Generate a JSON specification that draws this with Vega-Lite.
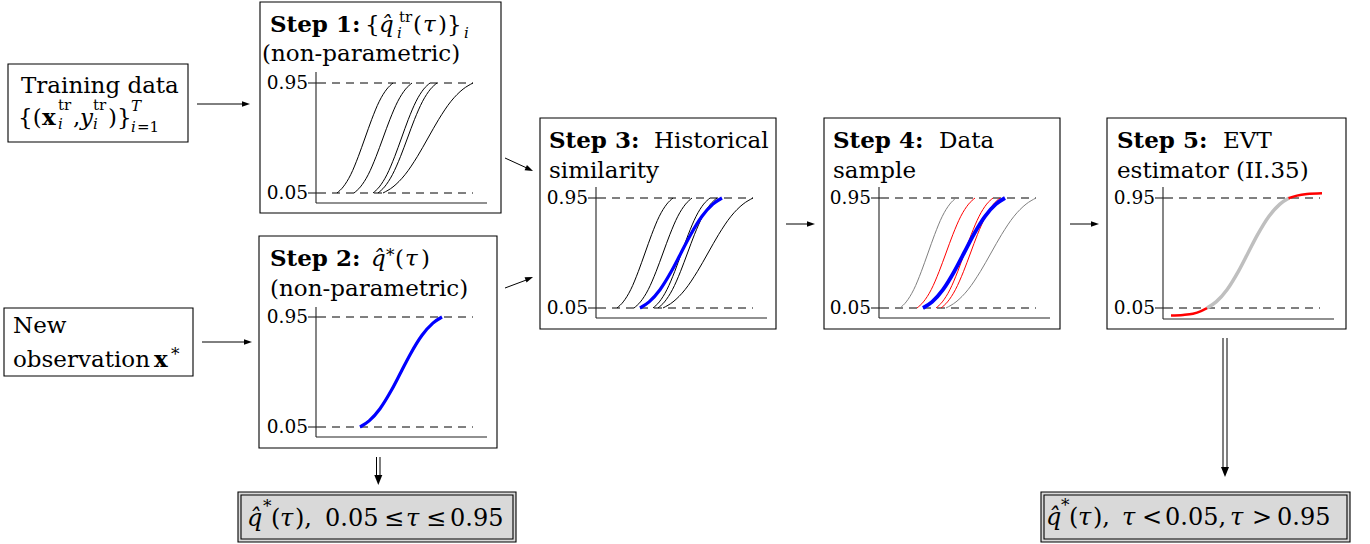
{
"$schema":"https://vega.github.io/schema/vega-lite/v6.json",
"width":1370,"height":544,"padding":0,"autosize":{"type":"none"},
"background":"white",
"config":{"view":{"stroke":null}},
"datasets":{
"boxes":[{"x":8,"x2":188,"y":64,"y2":142},{"x":4,"x2":193,"y":308,"y2":376},{"x":260,"x2":501,"y":2,"y2":213},{"x":259,"x2":497,"y":236,"y2":448},{"x":540,"x2":776,"y":118,"y2":329},{"x":824,"x2":1060,"y":118,"y2":329},{"x":1107,"x2":1346,"y":118,"y2":329}],
"resOuter":[{"x":238,"x2":516,"y":492,"y2":542},{"x":1041,"x2":1350,"y":492,"y2":542}],
"resInner":[{"x":241,"x2":513,"y":495,"y2":539},{"x":1044,"x2":1347,"y":495,"y2":539}],
"axes":[
{"x":316,"x2":316,"y":72,"y2":203},{"x":316,"x2":487,"y":203,"y2":203},{"x":308,"x2":318,"y":83,"y2":83},{"x":308,"x2":318,"y":193,"y2":193},
{"x":316,"x2":316,"y":307,"y2":437},{"x":316,"x2":487,"y":437,"y2":437},{"x":308,"x2":318,"y":317,"y2":317},{"x":308,"x2":318,"y":427,"y2":427},
{"x":596,"x2":596,"y":187,"y2":318},{"x":596,"x2":767,"y":318,"y2":318},{"x":588,"x2":598,"y":198,"y2":198},{"x":588,"x2":598,"y":308,"y2":308},
{"x":879,"x2":879,"y":187,"y2":318},{"x":879,"x2":1050,"y":318,"y2":318},{"x":871,"x2":881,"y":198,"y2":198},{"x":871,"x2":881,"y":308,"y2":308},
{"x":1163,"x2":1163,"y":187,"y2":319},{"x":1163,"x2":1334,"y":319,"y2":319},{"x":1155,"x2":1165,"y":198,"y2":198},{"x":1155,"x2":1165,"y":308,"y2":308}],
"dashes":[
{"x":318,"x2":473,"y":83,"y2":83},{"x":318,"x2":473,"y":193,"y2":193},
{"x":318,"x2":473,"y":317,"y2":317},{"x":318,"x2":473,"y":427,"y2":427},
{"x":598,"x2":753,"y":198,"y2":198},{"x":598,"x2":753,"y":308,"y2":308},
{"x":881,"x2":1036,"y":198,"y2":198},{"x":881,"x2":1036,"y":308,"y2":308},
{"x":1165,"x2":1320,"y":198,"y2":198},{"x":1165,"x2":1320,"y":308,"y2":308}],
"ticklabels":[
{"x":308,"y":83,"t":"0.95"},{"x":308,"y":193,"t":"0.05"},
{"x":308,"y":317,"t":"0.95"},{"x":308,"y":427,"t":"0.05"},
{"x":588,"y":198,"t":"0.95"},{"x":588,"y":308,"t":"0.05"},
{"x":871,"y":198,"t":"0.95"},{"x":871,"y":308,"t":"0.05"},
{"x":1155,"y":198,"t":"0.95"},{"x":1155,"y":308,"t":"0.05"}],
"shafts":[
{"x":197,"x2":246,"y":104,"y2":104},{"x":202,"x2":248,"y":342,"y2":342},
{"x":505,"x2":529,"y":158,"y2":169},{"x":505,"x2":529,"y":288,"y2":279},
{"x":786,"x2":811,"y":224,"y2":224},{"x":1070,"x2":1095,"y":224,"y2":224},
{"x":376.5,"x2":376.5,"y":457,"y2":478},{"x":380,"x2":380,"y":457,"y2":478},
{"x":1223,"x2":1223,"y":338,"y2":469},{"x":1227,"x2":1227,"y":338,"y2":469}],
"headsR":[{"x":246,"y":104,"a":0},{"x":248,"y":342,"a":0},{"x":529.4,"y":169.3,"a":25},{"x":529.3,"y":278.5,"a":-21},{"x":811,"y":224,"a":0},{"x":1095,"y":224,"a":0}],
"headsD":[{"x":378.3,"y":480},{"x":1225,"y":472}],
"curves":[
{"c":"s1a","k":"k","x":337,"y":193},{"c":"s1a","k":"k","x":343.2,"y":186.9},{"c":"s1a","k":"k","x":350.7,"y":174.7},{"c":"s1a","k":"k","x":358.4,"y":156.3},{"c":"s1a","k":"k","x":365,"y":138},{"c":"s1a","k":"k","x":371.6,"y":119.7},{"c":"s1a","k":"k","x":379.3,"y":101.3},{"c":"s1a","k":"k","x":386.8,"y":89.1},{"c":"s1a","k":"k","x":393,"y":83},
{"c":"s1b","k":"k","x":354,"y":193},{"c":"s1b","k":"k","x":360.4,"y":186.9},{"c":"s1b","k":"k","x":368.2,"y":174.7},{"c":"s1b","k":"k","x":376.2,"y":156.3},{"c":"s1b","k":"k","x":383,"y":138},{"c":"s1b","k":"k","x":389.8,"y":119.7},{"c":"s1b","k":"k","x":397.8,"y":101.3},{"c":"s1b","k":"k","x":405.6,"y":89.1},{"c":"s1b","k":"k","x":412,"y":83},
{"c":"s1c","k":"k","x":373,"y":193},{"c":"s1c","k":"k","x":379.3,"y":186.9},{"c":"s1c","k":"k","x":386.9,"y":174.7},{"c":"s1c","k":"k","x":394.8,"y":156.3},{"c":"s1c","k":"k","x":401.5,"y":138},{"c":"s1c","k":"k","x":408.2,"y":119.7},{"c":"s1c","k":"k","x":416.1,"y":101.3},{"c":"s1c","k":"k","x":423.7,"y":89.1},{"c":"s1c","k":"k","x":430,"y":83},
{"c":"s1d","k":"k","x":378,"y":193},{"c":"s1d","k":"k","x":384.5,"y":186.9},{"c":"s1d","k":"k","x":392.4,"y":174.7},{"c":"s1d","k":"k","x":400.6,"y":156.3},{"c":"s1d","k":"k","x":407.5,"y":138},{"c":"s1d","k":"k","x":414.4,"y":119.7},{"c":"s1d","k":"k","x":422.6,"y":101.3},{"c":"s1d","k":"k","x":430.5,"y":89.1},{"c":"s1d","k":"k","x":437,"y":83},
{"c":"s1e","k":"k","x":383,"y":193},{"c":"s1e","k":"k","x":393,"y":186.9},{"c":"s1e","k":"k","x":405,"y":174.7},{"c":"s1e","k":"k","x":417.5,"y":156.3},{"c":"s1e","k":"k","x":428,"y":138},{"c":"s1e","k":"k","x":438.5,"y":119.7},{"c":"s1e","k":"k","x":451,"y":101.3},{"c":"s1e","k":"k","x":463.1,"y":89.1},{"c":"s1e","k":"k","x":473,"y":83},
{"c":"s2","k":"b","x":360,"y":427},{"c":"s2","k":"b","x":369.1,"y":420.9},{"c":"s2","k":"b","x":380,"y":408.7},{"c":"s2","k":"b","x":391.4,"y":390.3},{"c":"s2","k":"b","x":401,"y":372},{"c":"s2","k":"b","x":410.6,"y":353.7},{"c":"s2","k":"b","x":422,"y":335.3},{"c":"s2","k":"b","x":432.9,"y":323.1},{"c":"s2","k":"b","x":442,"y":317},
{"c":"s3a","k":"k","x":617,"y":308},{"c":"s3a","k":"k","x":623.2,"y":301.9},{"c":"s3a","k":"k","x":630.7,"y":289.7},{"c":"s3a","k":"k","x":638.4,"y":271.3},{"c":"s3a","k":"k","x":645,"y":253},{"c":"s3a","k":"k","x":651.6,"y":234.7},{"c":"s3a","k":"k","x":659.3,"y":216.3},{"c":"s3a","k":"k","x":666.8,"y":204.1},{"c":"s3a","k":"k","x":673,"y":198},
{"c":"s3b","k":"k","x":634,"y":308},{"c":"s3b","k":"k","x":640.4,"y":301.9},{"c":"s3b","k":"k","x":648.2,"y":289.7},{"c":"s3b","k":"k","x":656.2,"y":271.3},{"c":"s3b","k":"k","x":663,"y":253},{"c":"s3b","k":"k","x":669.8,"y":234.7},{"c":"s3b","k":"k","x":677.8,"y":216.3},{"c":"s3b","k":"k","x":685.6,"y":204.1},{"c":"s3b","k":"k","x":692,"y":198},
{"c":"s3c","k":"k","x":653,"y":308},{"c":"s3c","k":"k","x":659.3,"y":301.9},{"c":"s3c","k":"k","x":666.9,"y":289.7},{"c":"s3c","k":"k","x":674.8,"y":271.3},{"c":"s3c","k":"k","x":681.5,"y":253},{"c":"s3c","k":"k","x":688.2,"y":234.7},{"c":"s3c","k":"k","x":696.1,"y":216.3},{"c":"s3c","k":"k","x":703.7,"y":204.1},{"c":"s3c","k":"k","x":710,"y":198},
{"c":"s3d","k":"k","x":658,"y":308},{"c":"s3d","k":"k","x":664.5,"y":301.9},{"c":"s3d","k":"k","x":672.4,"y":289.7},{"c":"s3d","k":"k","x":680.6,"y":271.3},{"c":"s3d","k":"k","x":687.5,"y":253},{"c":"s3d","k":"k","x":694.4,"y":234.7},{"c":"s3d","k":"k","x":702.6,"y":216.3},{"c":"s3d","k":"k","x":710.5,"y":204.1},{"c":"s3d","k":"k","x":717,"y":198},
{"c":"s3e","k":"k","x":663,"y":308},{"c":"s3e","k":"k","x":673,"y":301.9},{"c":"s3e","k":"k","x":685,"y":289.7},{"c":"s3e","k":"k","x":697.5,"y":271.3},{"c":"s3e","k":"k","x":708,"y":253},{"c":"s3e","k":"k","x":718.5,"y":234.7},{"c":"s3e","k":"k","x":731,"y":216.3},{"c":"s3e","k":"k","x":743.1,"y":204.1},{"c":"s3e","k":"k","x":753,"y":198},
{"c":"s3x","k":"b","x":640,"y":308},{"c":"s3x","k":"b","x":649.1,"y":301.9},{"c":"s3x","k":"b","x":660,"y":289.7},{"c":"s3x","k":"b","x":671.4,"y":271.3},{"c":"s3x","k":"b","x":681,"y":253},{"c":"s3x","k":"b","x":690.6,"y":234.7},{"c":"s3x","k":"b","x":702,"y":216.3},{"c":"s3x","k":"b","x":712.9,"y":204.1},{"c":"s3x","k":"b","x":722,"y":198},
{"c":"s4a","k":"g","x":900,"y":308},{"c":"s4a","k":"g","x":906.2,"y":301.9},{"c":"s4a","k":"g","x":913.7,"y":289.7},{"c":"s4a","k":"g","x":921.4,"y":271.3},{"c":"s4a","k":"g","x":928,"y":253},{"c":"s4a","k":"g","x":934.6,"y":234.7},{"c":"s4a","k":"g","x":942.3,"y":216.3},{"c":"s4a","k":"g","x":949.8,"y":204.1},{"c":"s4a","k":"g","x":956,"y":198},
{"c":"s4b","k":"r","x":917,"y":308},{"c":"s4b","k":"r","x":923.4,"y":301.9},{"c":"s4b","k":"r","x":931.2,"y":289.7},{"c":"s4b","k":"r","x":939.2,"y":271.3},{"c":"s4b","k":"r","x":946,"y":253},{"c":"s4b","k":"r","x":952.8,"y":234.7},{"c":"s4b","k":"r","x":960.8,"y":216.3},{"c":"s4b","k":"r","x":968.6,"y":204.1},{"c":"s4b","k":"r","x":975,"y":198},
{"c":"s4c","k":"r","x":936,"y":308},{"c":"s4c","k":"r","x":942.3,"y":301.9},{"c":"s4c","k":"r","x":949.9,"y":289.7},{"c":"s4c","k":"r","x":957.8,"y":271.3},{"c":"s4c","k":"r","x":964.5,"y":253},{"c":"s4c","k":"r","x":971.2,"y":234.7},{"c":"s4c","k":"r","x":979.1,"y":216.3},{"c":"s4c","k":"r","x":986.7,"y":204.1},{"c":"s4c","k":"r","x":993,"y":198},
{"c":"s4d","k":"r","x":941,"y":308},{"c":"s4d","k":"r","x":947.5,"y":301.9},{"c":"s4d","k":"r","x":955.4,"y":289.7},{"c":"s4d","k":"r","x":963.6,"y":271.3},{"c":"s4d","k":"r","x":970.5,"y":253},{"c":"s4d","k":"r","x":977.4,"y":234.7},{"c":"s4d","k":"r","x":985.6,"y":216.3},{"c":"s4d","k":"r","x":993.5,"y":204.1},{"c":"s4d","k":"r","x":1000,"y":198},
{"c":"s4e","k":"g","x":946,"y":308},{"c":"s4e","k":"g","x":956,"y":301.9},{"c":"s4e","k":"g","x":968,"y":289.7},{"c":"s4e","k":"g","x":980.5,"y":271.3},{"c":"s4e","k":"g","x":991,"y":253},{"c":"s4e","k":"g","x":1001.5,"y":234.7},{"c":"s4e","k":"g","x":1014,"y":216.3},{"c":"s4e","k":"g","x":1026.1,"y":204.1},{"c":"s4e","k":"g","x":1036,"y":198},
{"c":"s4x","k":"b4","x":923,"y":308},{"c":"s4x","k":"b4","x":932.1,"y":301.9},{"c":"s4x","k":"b4","x":943,"y":289.7},{"c":"s4x","k":"b4","x":954.4,"y":271.3},{"c":"s4x","k":"b4","x":964,"y":253},{"c":"s4x","k":"b4","x":973.6,"y":234.7},{"c":"s4x","k":"b4","x":985,"y":216.3},{"c":"s4x","k":"b4","x":995.9,"y":204.1},{"c":"s4x","k":"b4","x":1005,"y":198},
{"c":"s5","k":"lg","x":1207,"y":308},{"c":"s5","k":"lg","x":1216.1,"y":301.9},{"c":"s5","k":"lg","x":1227,"y":289.7},{"c":"s5","k":"lg","x":1238.4,"y":271.3},{"c":"s5","k":"lg","x":1248,"y":253},{"c":"s5","k":"lg","x":1257.6,"y":234.7},{"c":"s5","k":"lg","x":1269,"y":216.3},{"c":"s5","k":"lg","x":1279.9,"y":204.1},{"c":"s5","k":"lg","x":1289,"y":198},
{"c":"s5l","k":"rt","x":1171,"y":315.5},{"c":"s5l","k":"rt","x":1183,"y":315},{"c":"s5l","k":"rt","x":1193,"y":313.8},{"c":"s5l","k":"rt","x":1201,"y":311.2},{"c":"s5l","k":"rt","x":1207,"y":308.2},
{"c":"s5h","k":"rt","x":1288.5,"y":198.2},{"c":"s5h","k":"rt","x":1297,"y":195.6},{"c":"s5h","k":"rt","x":1307,"y":194},{"c":"s5h","k":"rt","x":1322,"y":193.2}],
"t_up":[{"x":21,"y":93,"t":"Training data"},{"x":18,"y":125,"t":"{("},{"x":73,"y":125,"t":","},{"x":108,"y":125,"t":")}"},{"x":13,"y":333,"t":"New"},{"x":13,"y":367,"t":"observation"},{"x":365,"y":32,"t":"{"},{"x":413,"y":32,"t":"("},{"x":438,"y":32,"t":")}"},{"x":262,"y":61,"t":"(non-parametric)"},{"x":395,"y":266,"t":"("},{"x":421,"y":266,"t":")"},{"x":270,"y":296,"t":"(non-parametric)"},{"x":654,"y":148,"t":"Historical"},{"x":549,"y":178,"t":"similarity"},{"x":939,"y":148,"t":"Data"},{"x":833,"y":178,"t":"sample"},{"x":1223,"y":148,"t":"EVT"},{"x":1117,"y":178,"t":"estimator (II.35)"}],
"t_it":[{"x":80,"y":125,"t":"y"},{"x":379,"y":32,"t":"q\u0302"},{"x":423,"y":32,"t":"τ"},{"x":371,"y":266,"t":"q\u0302"},{"x":405,"y":266,"t":"τ"}],
"t_bold":[{"x":42,"y":125,"t":"x"},{"x":154,"y":367,"t":"x"},{"x":270,"y":32,"t":"Step 1:"},{"x":270,"y":266,"t":"Step 2:"},{"x":549,"y":148,"t":"Step 3:"},{"x":833,"y":148,"t":"Step 4:"},{"x":1117,"y":148,"t":"Step 5:"}],
"t_sc":[{"x":58,"y":110,"t":"tr"},{"x":93,"y":110,"t":"tr"},{"x":137,"y":132,"t":"=1"},{"x":399,"y":22,"t":"tr"}],
"t_star":[{"x":171,"y":360,"t":"*"},{"x":386,"y":261,"t":"*"}],
"t_sc_it":[{"x":58,"y":129,"t":"i"},{"x":93,"y":129,"t":"i"},{"x":131,"y":111,"t":"T"},{"x":131,"y":132,"t":"i"},{"x":397,"y":38,"t":"i"},{"x":464,"y":38,"t":"i"}],
"t_big":[{"x":271,"y":526,"t":"("},{"x":295,"y":526,"t":"),"},{"x":325,"y":526,"t":"0.05"},{"x":384,"y":526,"t":"≤"},{"x":426,"y":526,"t":"≤"},{"x":450,"y":526,"t":"0.95"},{"x":1069,"y":525,"t":"("},{"x":1093,"y":525,"t":"),"},{"x":1142,"y":525,"t":"<"},{"x":1165,"y":525,"t":"0.05,"},{"x":1252,"y":525,"t":">"},{"x":1277,"y":525,"t":"0.95"}],
"t_big_it":[{"x":247,"y":526,"t":"q\u0302"},{"x":280,"y":526,"t":"τ"},{"x":406,"y":526,"t":"τ"},{"x":1046,"y":525,"t":"q\u0302"},{"x":1078,"y":525,"t":"τ"},{"x":1122,"y":525,"t":"τ"},{"x":1230,"y":525,"t":"τ"}],
"t_big_sc":[{"x":263,"y":512,"t":"*"},{"x":1061,"y":511,"t":"*"}]
},
"encoding":{
"x":{"field":"x","type":"quantitative","scale":{"domain":[0,1370],"nice":false,"zero":false},"axis":null},
"y":{"field":"y","type":"quantitative","scale":{"domain":[0,544],"nice":false,"zero":false,"reverse":true},"axis":null}
},
"layer":[
{"data":{"name":"boxes"},"mark":{"type":"rect","fill":"white","stroke":"black","strokeWidth":1.1},"encoding":{"x2":{"field":"x2"},"y2":{"field":"y2"}}},
{"data":{"name":"resOuter"},"mark":{"type":"rect","fill":"#d9d9d9","stroke":"black","strokeWidth":1.1},"encoding":{"x2":{"field":"x2"},"y2":{"field":"y2"}}},
{"data":{"name":"resInner"},"mark":{"type":"rect","fill":null,"fillOpacity":0,"stroke":"black","strokeWidth":1.1},"encoding":{"x2":{"field":"x2"},"y2":{"field":"y2"}}},
{"data":{"name":"dashes"},"mark":{"type":"rule","color":"black","strokeWidth":1,"strokeDash":[8,6]},"encoding":{"x2":{"field":"x2"},"y2":{"field":"y2"}}},
{"data":{"name":"axes"},"mark":{"type":"rule","color":"#222","strokeWidth":1.1},"encoding":{"x2":{"field":"x2"},"y2":{"field":"y2"}}},
{"data":{"name":"shafts"},"mark":{"type":"rule","color":"black","strokeWidth":1},"encoding":{"x2":{"field":"x2"},"y2":{"field":"y2"}}},
{"data":{"name":"headsR"},"mark":{"type":"point","shape":"M-1,-0.7L1,0L-1,0.7Z","filled":true,"color":"black","size":64,"opacity":1},"encoding":{"angle":{"field":"a","type":"quantitative","scale":null}}},
{"data":{"name":"headsD"},"mark":{"type":"point","shape":"M-0.8,-1L0,1L0.8,-1Z","filled":true,"color":"black","size":100,"opacity":1}},
{"data":{"name":"curves"},"transform":[{"filter":{"field":"k","equal":"k"}}],"mark":{"type":"line","interpolate":"monotone","color":"black","strokeWidth":1},"encoding":{"detail":{"field":"c"}}},
{"data":{"name":"curves"},"transform":[{"filter":{"field":"k","equal":"g"}}],"mark":{"type":"line","interpolate":"monotone","color":"#808080","strokeWidth":1},"encoding":{"detail":{"field":"c"}}},
{"data":{"name":"curves"},"transform":[{"filter":{"field":"k","equal":"r"}}],"mark":{"type":"line","interpolate":"monotone","color":"#ff0000","strokeWidth":1},"encoding":{"detail":{"field":"c"}}},
{"data":{"name":"curves"},"transform":[{"filter":{"field":"k","equal":"lg"}}],"mark":{"type":"line","interpolate":"monotone","color":"#bfbfbf","strokeWidth":3.5},"encoding":{"detail":{"field":"c"}}},
{"data":{"name":"curves"},"transform":[{"filter":{"field":"k","equal":"rt"}}],"mark":{"type":"line","interpolate":"monotone","color":"#ff0000","strokeWidth":2.5},"encoding":{"detail":{"field":"c"}}},
{"data":{"name":"curves"},"transform":[{"filter":{"field":"k","equal":"b"}}],"mark":{"type":"line","interpolate":"monotone","color":"#0000ff","strokeWidth":3.2},"encoding":{"detail":{"field":"c"}}},
{"data":{"name":"curves"},"transform":[{"filter":{"field":"k","equal":"b4"}}],"mark":{"type":"line","interpolate":"monotone","color":"#0000ff","strokeWidth":3.8},"encoding":{"detail":{"field":"c"}}},
{"data":{"name":"ticklabels"},"mark":{"type":"text","font":"DejaVu Serif","fontSize":18.5,"align":"right","baseline":"middle","color":"black"},"encoding":{"text":{"field":"t"}}},
{"data":{"name":"t_up"},"mark":{"type":"text","font":"DejaVu Serif","fontSize":23,"align":"left","baseline":"alphabetic","color":"black"},"encoding":{"text":{"field":"t"}}},
{"data":{"name":"t_it"},"mark":{"type":"text","font":"DejaVu Serif","fontStyle":"italic","fontSize":23,"align":"left","baseline":"alphabetic","color":"black"},"encoding":{"text":{"field":"t"}}},
{"data":{"name":"t_bold"},"mark":{"type":"text","font":"DejaVu Serif","fontWeight":"bold","fontSize":23,"align":"left","baseline":"alphabetic","color":"black"},"encoding":{"text":{"field":"t"}}},
{"data":{"name":"t_sc"},"mark":{"type":"text","font":"DejaVu Serif","fontSize":15,"align":"left","baseline":"alphabetic","color":"black"},"encoding":{"text":{"field":"t"}}},
{"data":{"name":"t_star"},"mark":{"type":"text","font":"DejaVu Serif","fontSize":17,"align":"left","baseline":"alphabetic","color":"black"},"encoding":{"text":{"field":"t"}}},
{"data":{"name":"t_sc_it"},"mark":{"type":"text","font":"DejaVu Serif","fontStyle":"italic","fontSize":15,"align":"left","baseline":"alphabetic","color":"black"},"encoding":{"text":{"field":"t"}}},
{"data":{"name":"t_big"},"mark":{"type":"text","font":"DejaVu Serif","fontSize":24,"align":"left","baseline":"alphabetic","color":"black"},"encoding":{"text":{"field":"t"}}},
{"data":{"name":"t_big_it"},"mark":{"type":"text","font":"DejaVu Serif","fontStyle":"italic","fontSize":24,"align":"left","baseline":"alphabetic","color":"black"},"encoding":{"text":{"field":"t"}}},
{"data":{"name":"t_big_sc"},"mark":{"type":"text","font":"DejaVu Serif","fontSize":17,"align":"left","baseline":"alphabetic","color":"black"},"encoding":{"text":{"field":"t"}}}
]
}
